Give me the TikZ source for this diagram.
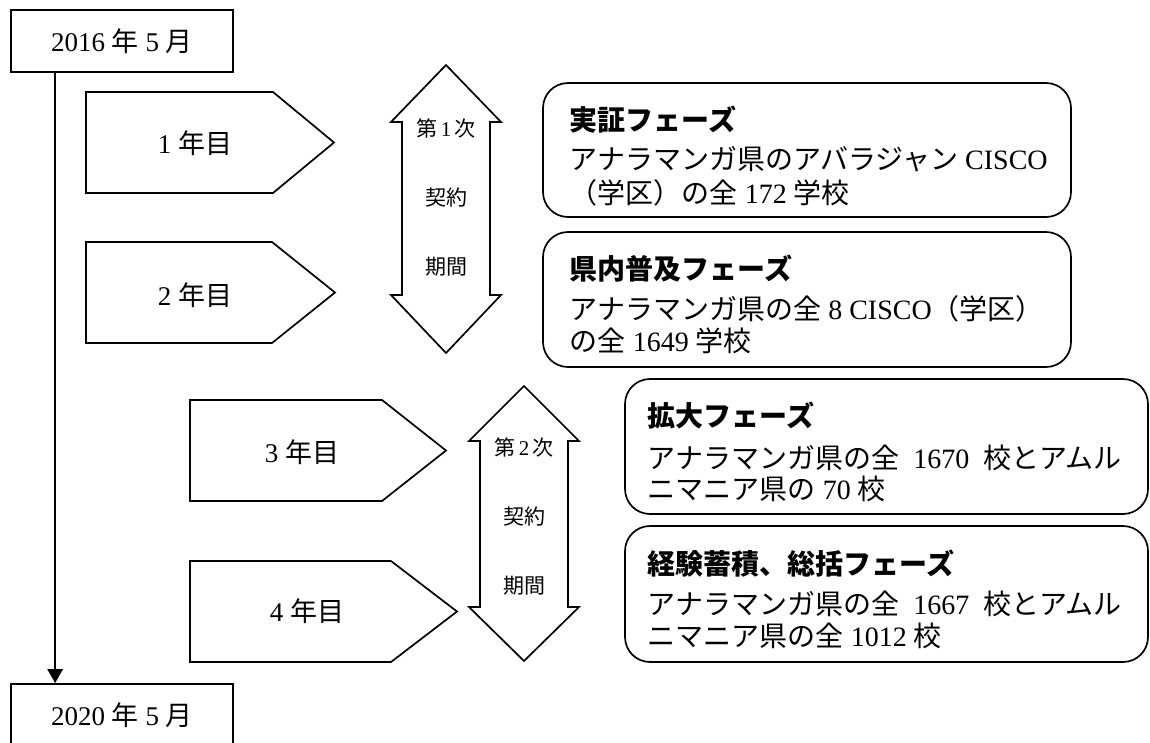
\documentclass[tikz,border=0pt]{standalone}
\usepackage{fontspec}
\setmainfont{Liberation Serif}
\newfontfamily\jpf{Noto Sans CJK JP}
\usetikzlibrary{arrows.meta}
\begin{document}
\begin{tikzpicture}[x=1pt,y=-1pt,line width=1.7pt,line join=miter,
  datebox/.style={draw,minimum width=222pt,minimum height=62pt,inner sep=0pt,font=\fontsize{27}{32}\selectfont},
  yeartext/.style={inner sep=0pt,font=\fontsize{27}{32}\selectfont},
  termtext/.style={inner sep=0pt,font=\fontsize{21}{25}\selectfont},
  phasebox/.style={draw,rounded corners=25pt,inner sep=0pt},
  phasetitle/.style={anchor=base west,inner sep=0pt,font=\fontsize{28}{33}\selectfont\jpf\bfseries},
  phasebody/.style={anchor=base west,inner sep=0pt,font=\fontsize{28}{33}\selectfont},
  tl/.style={line width=2.6pt,-{Triangle[width=15pt,length=14pt]}}
]
\useasboundingbox (0,0) rectangle (1150,742);

% date boxes and timeline
\node[datebox] (d1) at (122,41) {2016 {\jpf 年} 5 {\jpf 月}};
\node[datebox] (d2) at (122,715) {2020 {\jpf 年} 5 {\jpf 月}};
\draw[tl] ([xshift=45pt]d1.south west) -- ([xshift=45pt]d2.north west);

% year pentagons
\draw (86,92) -- (273,92) -- (334,142.5) -- (273,193) -- (86,193) -- cycle;
\node[yeartext] (y1) at (195,143) {1 {\jpf 年目}};
\draw (86,242) -- (272,242) -- (335,292.5) -- (272,343) -- (86,343) -- cycle;
\node[yeartext] (y2) at (195,295) {2 {\jpf 年目}};
\draw (190,400) -- (382,400) -- (446,450.5) -- (382,501) -- (190,501) -- cycle;
\node[yeartext] (y3) at (302,452) {3 {\jpf 年目}};
\draw (190,561) -- (391,561) -- (457,611.5) -- (391,662) -- (190,662) -- cycle;
\node[yeartext] (y4) at (307,611) {4 {\jpf 年目}};

% contract period double arrows
\draw (446,65) -- (501,122) -- (490,122) -- (490,295) -- (501,295) -- (446,353)
  -- (391,295) -- (402,295) -- (402,122) -- (391,122) -- cycle;
\node[termtext] (k1a) at (446,128) {{\jpf 第}\,1\,{\jpf 次}};
\node[termtext] (k1b) at (446,198) {\jpf 契約};
\node[termtext] (k1c) at (446,267) {\jpf 期間};
\draw (524,386) -- (579,441) -- (568,441) -- (568,607) -- (579,607) -- (524,661)
  -- (469,607) -- (480,607) -- (480,441) -- (469,441) -- cycle;
\node[termtext] (k2a) at (524,447) {{\jpf 第}\,2\,{\jpf 次}};
\node[termtext] (k2b) at (524,517) {\jpf 契約};
\node[termtext] (k2c) at (524,586) {\jpf 期間};

% phase boxes
\node[phasebox,minimum width=528pt,minimum height=134pt] (b1) at (807,150) {};
\node[phasetitle] (b1t) at (569,130) {実証フェーズ};
\node[phasebody] (b1l1) at (569,169) {{\jpf アナラマンガ県のアバラジャン} CISCO};
\node[phasebody] (b1l2) at (569,203) {{\jpf （学区）の全} 172 {\jpf 学校}};

\node[phasebox,minimum width=528pt,minimum height=135pt] (b2) at (807,299.5) {};
\node[phasetitle] (b2t) at (569,279) {県内普及フェーズ};
\node[phasebody] (b2l1) at (569,319) {{\jpf アナラマンガ県の全} 8 CISCO{\jpf （学区）}};
\node[phasebody] (b2l2) at (569,351) {{\jpf の全} 1649 {\jpf 学校}};

\node[phasebox,minimum width=523pt,minimum height=135pt] (b3) at (886.5,446.5) {};
\node[phasetitle] (b3t) at (647,426) {拡大フェーズ};
\node[phasebody] (b3l1) at (647,468) {{\jpf アナラマンガ県の全}\ \ 1670\ \ {\jpf 校とアムル}};
\node[phasebody] (b3l2) at (647,499) {{\jpf ニマニア県の} 70 {\jpf 校}};

\node[phasebox,minimum width=523pt,minimum height=136pt] (b4) at (886.5,594) {};
\node[phasetitle] (b4t) at (647,574) {経験蓄積、総括フェーズ};
\node[phasebody] (b4l1) at (647,614) {{\jpf アナラマンガ県の全}\ \ 1667\ \ {\jpf 校とアムル}};
\node[phasebody] (b4l2) at (647,646) {{\jpf ニマニア県の全} 1012 {\jpf 校}};
\end{tikzpicture}
\end{document}
